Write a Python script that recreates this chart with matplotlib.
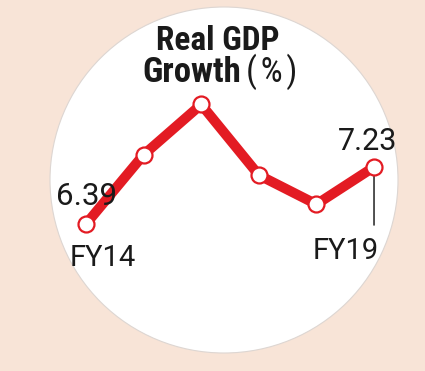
import matplotlib.pyplot as plt
from matplotlib.patches import Ellipse

years = ["FY14", "FY15", "FY16", "FY17", "FY18", "FY19"]
growth = [6.39, 7.41, 8.15, 7.11, 6.68, 7.23]

bg = "#f8e4d7"
red = "#e31b23"
ink = "#1a1a1a"

fig = plt.figure(figsize=(4.25, 3.71), dpi=100, facecolor=bg)
ax = fig.add_axes([0, 0, 1, 1])
ax.set_facecolor(bg)
ax.axis("off")

# white disc behind the chart
disc = Ellipse((224 / 425, 1 - 180 / 371), 348 / 425, 346 / 371,
               transform=ax.transAxes, facecolor="white",
               edgecolor="#ddd6d2", linewidth=0.8, zorder=0)
ax.add_patch(disc)

x = list(range(len(years)))
ax.plot(x, growth, color=red, linewidth=7.2, solid_capstyle="round", zorder=2)
ax.plot(x, growth, linestyle="none", marker="o", markersize=11.5,
        markerfacecolor="white", markeredgecolor=red, markeredgewidth=1.6, zorder=4)

ax.set_xlim(-1.493, 5.885)
ax.set_ylim(4.225, 9.689)

num_font = ["Roboto", "DejaVu Sans"]
title_font = ["Roboto Condensed", "DejaVu Sans"]

# first / last values and years
ax.annotate(f"{growth[0]:.2f}", (x[0], growth[0]), xytext=(0, 19),
            textcoords="offset pixels", ha="center", va="baseline",
            fontsize=22.5, family=num_font, color=ink, zorder=3)
ax.annotate(years[0], (x[0], growth[0]), xytext=(17, -42),
            textcoords="offset pixels", ha="center", va="baseline",
            fontsize=21, family=num_font, color=ink, zorder=3)
ax.annotate(f"{growth[-1]:.2f}", (x[-1], growth[-1]), xytext=(-6, 17),
            textcoords="offset pixels", ha="center", va="baseline",
            fontsize=22, family=num_font, color=ink, zorder=3)
ax.annotate("", xy=(x[-1], growth[-1]), xytext=(0, -58),
            textcoords="offset pixels",
            arrowprops=dict(arrowstyle="-", color="#333333", lw=1.2,
                            shrinkA=0, shrinkB=0), zorder=3)
ax.annotate(years[-1], (x[-1], growth[-1]), xytext=(-28, -92),
            textcoords="offset pixels", ha="center", va="baseline",
            fontsize=21, family=num_font, color=ink, zorder=3)

# title
ax.text(218 / 425, 1 - 50 / 371, "Real GDP", transform=ax.transAxes,
        ha="center", va="baseline", fontsize=24, fontweight="bold",
        family=title_font, color=ink)
ax.text(241 / 425, 1 - 82 / 371, "Growth", transform=ax.transAxes,
        ha="right", va="baseline", fontsize=25, fontweight="bold",
        family=title_font, color=ink)
ax.text(246 / 425, 1 - 82 / 371, "(\u200a%\u200a)", transform=ax.transAxes,
        ha="left", va="baseline", fontsize=25,
        family=title_font, color=ink)

fig.savefig("out.png", dpi=100, facecolor=bg)
